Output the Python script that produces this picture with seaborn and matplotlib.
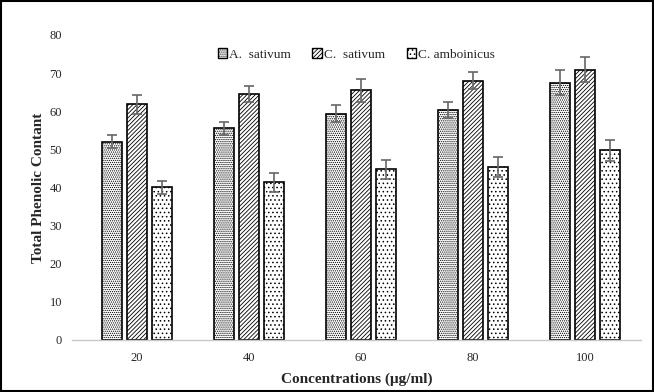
import pandas as pd
import seaborn as sns
import matplotlib.pyplot as plt
from matplotlib.patches import Rectangle

concentrations = ["20", "40", "60", "80", "100"]
species = ["A.  sativum", "C.  sativum", "C. amboinicus"]
a_sativum = [52.0, 55.5, 59.3, 60.3, 67.5]
c_sativum = [61.8, 64.5, 65.5, 68.0, 70.9]
c_amboinicus = [40.0, 41.3, 44.7, 45.3, 49.7]
a_err = [1.8, 1.7, 2.2, 2.2, 3.3]
c_err = [2.5, 2.0, 3.0, 2.3, 3.3]
amb_err = [1.8, 2.5, 2.5, 2.6, 2.8]

rows = []
for vals, errs, name in [(a_sativum, a_err, species[0]),
                         (c_sativum, c_err, species[1]),
                         (c_amboinicus, amb_err, species[2])]:
    for conc, v, e in zip(concentrations, vals, errs):
        rows.append({"Concentration": conc, "Species": name, "TPC": v, "err": e})
df = pd.DataFrame(rows)

sns.set_style("white")
plt.rcParams["font.family"] = ["Liberation Serif", "DejaVu Serif"]
plt.rcParams["hatch.linewidth"] = 0.6

fig, ax = plt.subplots(figsize=(6.54, 3.92), dpi=100)
fig.subplots_adjust(left=0.11, right=0.98, top=0.911, bottom=0.133)

sns.barplot(data=df, x="Concentration", y="TPC", hue="Species",
            order=concentrations, hue_order=species, width=0.67, gap=0.2,
            palette=["white"] * 3, edgecolor="black",
            linewidth=1.2, errorbar=None, ax=ax)

hatches = ["........", "////////", "...."]
for container, h, name in zip(ax.containers, hatches, species):
    sub = df[df["Species"] == name].set_index("Concentration").loc[concentrations]
    for bar in container:
        bar.set_hatch(h)
        bar.set_facecolor("white")
    xs = [b.get_x() + b.get_width() / 2 for b in container]
    ax.errorbar(xs, sub["TPC"], yerr=sub["err"], fmt="none",
                ecolor="#666666", elinewidth=1.2, capsize=3.5, capthick=1.2,
                zorder=5)

ax.set_xlim(-0.58, 4.5)
ax.set_ylim(0, 80)
ax.set_yticks(range(0, 81, 10))
ax.set_xlabel("Concentrations (μg/ml)", fontsize=11, fontweight="bold", labelpad=6)
ax.set_ylabel("Total Phenolic Contant", fontsize=11, fontweight="bold", labelpad=3)
ax.tick_params(axis="both", labelsize=9, length=0)
ax.tick_params(axis="y", pad=7)
ax.tick_params(axis="x", pad=9)
for s in ["left", "top", "right"]:
    ax.spines[s].set_visible(False)
ax.spines["bottom"].set_color("#c8c8c8")
ax.spines["bottom"].set_linewidth(1)

handles, labels = ax.get_legend_handles_labels()
for hnd, h in zip(handles, hatches):
    hnd.set_hatch(h)
    hnd.set_edgecolor("black")
    hnd.set_linewidth(1.0)
ax.legend(handles, labels, loc="upper center", bbox_to_anchor=(0.5, 0.995), ncol=3,
          frameon=False, fontsize=9.5, handlelength=0.7, handleheight=0.7,
          handletextpad=0.2, columnspacing=1.6)

fig.patches.append(Rectangle((0.002, 0.002), 0.996, 0.996, transform=fig.transFigure,
                             fill=False, edgecolor="black", linewidth=1.5))

plt.savefig("out.png", dpi=100)
